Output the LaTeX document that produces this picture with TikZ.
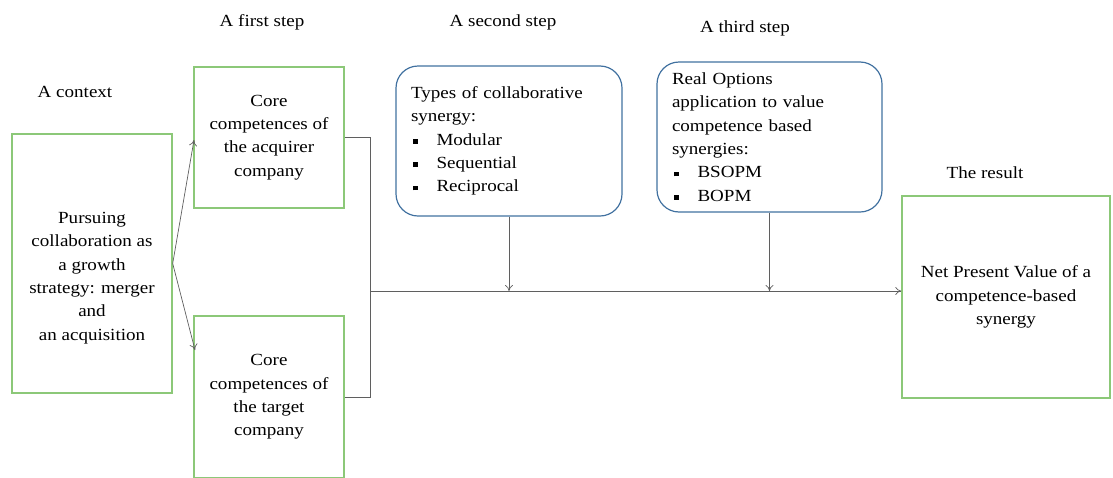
\documentclass[tikz,border=0pt]{standalone}
\usepackage{fontspec}
\setmainfont{Liberation Serif}[FakeStretch=1.12]
\usetikzlibrary{positioning,arrows.meta}
\definecolor{boxgreen}{RGB}{140,200,120}
\definecolor{boxblue}{RGB}{65,113,160}
\definecolor{linegray}{RGB}{95,95,95}

\begin{document}
\begin{tikzpicture}[x=1pt,y=-1pt]
\tikzset{
    gbox/.style={draw=boxgreen, line width=1.4pt, inner sep=0pt, align=center, font=\fontsize{17}{23.3}\selectfont},
    bbox/.style={draw=boxblue, line width=1.2pt, rounded corners=22pt, inner xsep=15pt, inner ysep=0pt, align=left, font=\fontsize{17}{23.3}\selectfont},
    txt/.style={align=center, inner sep=0pt, font=\fontsize{17}{23.3}\selectfont},
    head/.style={inner sep=0pt, font=\fontsize{17}{20}\selectfont},
    link/.style={draw=linegray, line width=0.7pt},
    tip/.style={-{To[length=6pt,width=8pt]}}}
\def\bul{\hspace*{2pt}\rule[1.5pt]{4.5pt}{4.5pt}\hspace{19pt}}

\useasboundingbox (0,0) rectangle (1113,477);

% headings
\node[head] (hctx) at (75,92) {A context};
\node[head] (hfirst) at (262,22) {A first step};
\node[head] (hsecond) at (503,22) {A second step};
\node[head] (hthird) at (745,28) {A third step};
\node[head] (hres) at (985,173) {The result};

% boxes
\node[gbox, minimum width=160pt, minimum height=259pt] (ctx) at (92,263.5) {};
\node[txt] (ctxtext) at (92,278) {Pursuing\\collaboration as\\a growth\\strategy: merger\\and\\an acquisition};
\node[gbox, minimum width=150pt, minimum height=141pt] (acq) at (269,137.5)
    {Core\\competences of\\the acquirer\\company};
\node[gbox, minimum width=150pt, minimum height=162pt] (tgt) at (269,397)
    {Core\\competences of\\the target\\company};
\node[bbox, text width=196pt, minimum height=150pt] (sec) at (509,141)
    {Types of collaborative\\synergy:\\\bul Modular\\\bul Sequential\\\bul Reciprocal};
\node[bbox, text width=195pt, minimum height=150pt] (third) at (769.5,137)
    {Real Options\\application to value\\competence based\\synergies:\\\bul BSOPM\\\bul BOPM};
\node[gbox, minimum width=208pt, minimum height=202pt] (res) at (1006,297)
    {Net Present Value of a\\competence-based\\synergy};

% connectors
\coordinate (acqin) at (194,140);
\coordinate (tgtin) at (195,350);
\coordinate (J) at (370,291);
\draw[link,tip] (ctx.east) -- (acqin);
\draw[link,tip] (ctx.east) -- (tgtin);
\draw[link] (acq.east) -| (J);
\draw[link] (tgt.east) -| (J);
\draw[link,tip] (J) -- (J -| res.west);
\draw[link,tip] (sec.south) -- (sec.south |- J);
\draw[link,tip] (third.south) -- (third.south |- J);
\end{tikzpicture}
\end{document}
